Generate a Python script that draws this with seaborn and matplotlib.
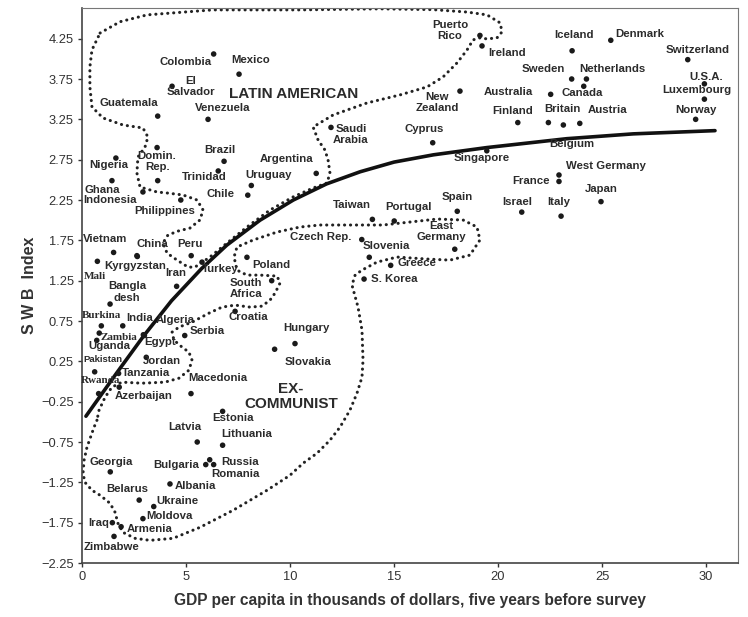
import seaborn as sns
import matplotlib.pyplot as plt
import numpy as np
import pandas as pd

# Countries, GDP per capita (thousands $) and subjective well-being index
countries = ["Colombia", "Mexico", "El\nSalvador", "Guatemala", "Venezuela", "Saudi\nArabia",
             "Domin.\nRep.", "", "Nigeria", "Brazil", "Argentina", "Trinidad", "Uruguay", "Chile",
             "Ghana", "Indonesia", "Philippines", "Puerto\nRico", "Ireland", "Iceland", "Denmark",
             "Switzerland", "Sweden", "Netherlands", "Canada", "U.S.A.", "Luxembourg", "Norway",
             "New\nZealand", "Australia", "Finland", "Britain", "Belgium", "Austria", "Cyprus",
             "Singapore", "West Germany", "France", "Japan", "Israel", "Italy", "Spain", "Taiwan",
             "Portugal", "Czech Rep.", "East\nGermany", "Slovenia", "Greece", "S. Korea", "Vietnam",
             "China", "Kyrgyzstan", "Peru", "Mali", "Turkey", "Poland", "Iran", "South\nAfrica",
             "Bangla\ndesh", "Croatia", "Burkina", "India", "Zambia", "Uganda", "Algeria", "Egypt",
             "Serbia", "Hungary", "Slovakia", "Jordan", "Pakistan", "Tanzania", "Rwanda",
             "Azerbaijan", "Macedonia", "Estonia", "Latvia", "Lithuania", "Russia", "Bulgaria",
             "Romania", "Georgia", "Albania", "Belarus", "Ukraine", "Moldova", "Iraq", "Armenia",
             "Zimbabwe"]
gdp = [6.33, 7.55, 4.33, 3.64, 6.06, 11.97,
       3.61, 3.64, 1.63, 6.83, 11.26, 6.55, 8.14, 7.97,
       1.44, 2.93, 4.75, 19.13, 19.23, 23.56, 25.42,
       29.12, 23.54, 24.25, 24.12, 29.92, 29.92, 29.50,
       18.17, 22.53, 20.95, 22.42, 23.14, 23.93, 16.86,
       19.46, 22.93, 22.93, 24.95, 21.14, 23.03, 18.04, 13.96,
       15.01, 13.45, 17.92, 13.81, 14.84, 13.56, 1.52,
       2.64, 2.66, 5.25, 0.74, 5.77, 7.93, 4.55, 9.12,
       1.35, 7.36, 0.93, 1.96, 0.83, 0.71, 2.95, 3.00,
       4.94, 10.24, 9.26, 3.09, 0.61, 1.76, 0.80,
       1.79, 5.24, 6.76, 5.54, 6.76, 6.14, 5.95,
       6.33, 1.36, 4.23, 2.75, 3.45, 2.93, 1.46, 1.88,
       1.54]
swb = [4.06, 3.81, 3.66, 3.29, 3.25, 3.15,
       2.90, 2.49, 2.77, 2.73, 2.58, 2.61, 2.43, 2.31,
       2.49, 2.35, 2.25, 4.29, 4.16, 4.10, 4.23,
       3.99, 3.75, 3.75, 3.66, 3.69, 3.50, 3.25,
       3.60, 3.56, 3.21, 3.21, 3.18, 3.20, 2.96,
       2.86, 2.56, 2.48, 2.23, 2.10, 2.05, 2.11, 2.01,
       1.99, 1.76, 1.64, 1.54, 1.44, 1.27, 1.60,
       1.56, 1.55, 1.56, 1.49, 1.48, 1.54, 1.18, 1.25,
       0.96, 0.87, 0.69, 0.69, 0.60, 0.51, 0.58, 0.57,
       0.57, 0.47, 0.40, 0.30, 0.12, 0.10, -0.15,
       -0.07, -0.15, -0.37, -0.75, -0.79, -0.97, -1.03,
       -1.03, -1.12, -1.27, -1.47, -1.55, -1.70, -1.75, -1.80,
       -1.92]

# fitted curve
curve_gdp = [0.19, 1.68, 2.95, 4.30, 5.75, 6.96, 8.56, 10.16, 11.76, 13.37, 15.0, 16.89,
             19.46, 23.3, 26.5, 30.43]
curve_swb = [-0.43, 0.11, 0.56, 1.00, 1.40, 1.69, 2.00, 2.25, 2.45, 2.60, 2.72, 2.81,
             2.90, 3.01, 3.07, 3.11]

# dotted outlines of the two groups
latin_gdp = [0.87, 1.83, 3.13, 6.30, 10.48, 14.33, 16.88, 18.51, 19.47, 20.10, 20.19, 19.95, 19.47,
             19.13, 18.80, 18.51, 18.03, 17.36, 16.59, 15.29, 13.70, 12.07, 11.11, 11.35, 11.68,
             11.83, 11.92, 11.78, 11.11, 10.14, 9.04, 7.93, 6.97, 6.15, 5.43, 5.10, 4.57, 4.09,
             3.89, 4.13, 4.62, 5.19, 5.67, 5.82, 5.53, 4.86, 4.09, 3.61, 2.79, 2.64, 2.69, 3.03,
             3.17, 2.93, 1.97, 1.01, 0.48, 0.38, 0.38, 0.48, 0.87]
latin_swb = [4.32, 4.46, 4.545, 4.607, 4.607, 4.62, 4.61, 4.58, 4.545, 4.446, 4.334, 4.26, 4.247,
             4.26, 4.235, 4.11, 3.95, 3.776, 3.652, 3.553, 3.453, 3.304, 3.155, 2.994, 2.87,
             2.746, 2.585, 2.461, 2.399, 2.287, 2.126, 1.915, 1.716, 1.543, 1.418, 1.418, 1.505,
             1.592, 1.716, 1.815, 1.865, 1.902, 2.002, 2.126, 2.25, 2.312, 2.337, 2.349, 2.411,
             2.585, 2.783, 2.907, 3.031, 3.143, 3.18, 3.267, 3.404, 3.652, 3.90, 4.111, 4.32]
excom_gdp = [0.72, 0.58, 0.24, 0.10, 0.05, 0.14, 0.48, 0.87, 1.35, 1.59, 1.73, 1.97, 2.55, 3.27,
             4.38, 5.67, 7.26, 8.89, 10.00, 10.63, 11.30, 11.92, 12.40, 12.88, 13.22, 13.46,
             13.51, 13.46, 13.27, 12.98, 13.13, 13.46, 14.18, 15.14, 16.59, 17.69, 18.65, 19.13,
             18.99, 18.32, 17.07, 15.77, 14.47, 13.37, 11.44, 10.48, 9.38, 8.22, 7.45, 7.31,
             7.45, 7.93, 8.56, 9.38, 9.52, 9.28, 9.04, 8.65, 8.08, 7.36, 6.73, 6.11, 5.29, 4.66,
             4.33, 4.42, 4.81, 5.14, 5.29, 5.14, 4.66, 3.99, 2.88, 1.92, 1.44, 1.11, 0.82, 0.72]
excom_swb = [-0.48, -0.567, -0.815, -0.976, -1.137, -1.249, -1.348, -1.41, -1.51, -1.621, -1.758,
             -1.87, -1.944, -1.969, -1.944, -1.808, -1.597, -1.349, -1.162, -1.013, -0.889,
             -0.728, -0.567, -0.356, -0.145, 0.054, 0.265, 0.637, 0.922, 1.195, 1.319, 1.381,
             1.48, 1.543, 1.518, 1.505, 1.567, 1.754, 1.915, 2.002, 2.014, 1.977, 1.94, 1.94,
             1.94, 1.915, 1.853, 1.753, 1.667, 1.543, 1.381, 1.319, 1.319, 1.307, 1.22, 1.096,
             1.009, 0.934, 0.922, 0.947, 0.922, 0.848, 0.736, 0.674, 0.612, 0.513, 0.426, 0.364,
             0.265, 0.14, 0.041, -0.008, -0.021, -0.008, -0.07, -0.195, -0.356, -0.48]

xticks = [0, 5, 10, 15, 20, 25, 30]
yticks = [-2.25, -1.75, -1.25, -0.75, -0.25, 0.25, 0.75, 1.25, 1.75, 2.25, 2.75, 3.25, 3.75, 4.25]

# label offsets in pixels from the dot (dx right, dy up)
offsets = {
    "Colombia": (-28, -8), "Mexico": (12, 14), "El\nSalvador": (19, 0), "Guatemala": (-29, 13),
    "Venezuela": (15, 11), "Saudi\nArabia": (20, -7), "Domin.\nRep.": (0, -14), "Nigeria": (-7, -7),
    "Brazil": (-4, 11), "Argentina": (-30, 14), "Trinidad": (-14, -6), "Uruguay": (17, 10),
    "Chile": (-27, 1), "Ghana": (-10, -9), "Indonesia": (-33, -8), "Philippines": (-16, -11),
    "Puerto\nRico": (-30, 5), "Ireland": (25, -7), "Iceland": (2, 16), "Denmark": (29, 6),
    "Switzerland": (10, 10), "Sweden": (-28, 10), "Netherlands": (26, 10), "Canada": (-2, -7),
    "U.S.A.": (2, 7), "Luxembourg": (-8, 9), "Norway": (0, 9), "New\nZealand": (-23, -11),
    "Australia": (-42, 2), "Finland": (-5, 12), "Britain": (14, 14), "Belgium": (8, -19),
    "Austria": (28, 13), "Cyprus": (-9, 14), "Singapore": (-5, -7), "West Germany": (47, 9),
    "France": (-28, 0), "Japan": (0, 13), "Israel": (-4, 10), "Italy": (-2, 14), "Spain": (0, 14),
    "Taiwan": (-21, 14), "Portugal": (14, 14), "Czech Rep.": (-41, 3), "East\nGermany": (-13, 18),
    "Slovenia": (17, 11), "Greece": (26, 2), "S. Korea": (30, 0), "Vietnam": (-8, 13),
    "China": (15, 12), "Kyrgyzstan": (-2, -10), "Peru": (-1, 12), "Mali": (-2, -15),
    "Turkey": (18, -7), "Poland": (24, -8), "Iran": (-1, 13), "South\nAfrica": (-26, -8),
    "Bangla\ndesh": (17, 12), "Croatia": (13, -6), "Burkina": (0, 10), "India": (17, 8),
    "Zambia": (20, -4), "Uganda": (13, -6), "Algeria": (32, 15), "Egypt": (16, -6),
    "Serbia": (22, 5), "Hungary": (11, 16), "Slovakia": (33, -13), "Jordan": (16, -4),
    "Pakistan": (8, 12), "Tanzania": (27, 0), "Rwanda": (2, 13), "Azerbaijan": (24, -9),
    "Macedonia": (27, 16), "Estonia": (10, -7), "Latvia": (-12, 15), "Lithuania": (24, 11),
    "Russia": (30, -2), "Bulgaria": (-30, 0), "Romania": (22, -9), "Georgia": (1, 10),
    "Albania": (25, -2), "Belarus": (-12, 11), "Ukraine": (24, 6), "Moldova": (27, 3),
    "Iraq": (-14, 0), "Armenia": (29, -2), "Zimbabwe": (-3, -11),
}
serif_labels = ["Mali", "Burkina", "Zambia", "Rwanda"]

df = pd.DataFrame({"country": countries, "gdp": gdp, "swb": swb})

sns.set_theme(style="white")
plt.rcParams['font.family'] = ["Liberation Sans", "DejaVu Sans"]

fig = plt.figure(figsize=(7.48, 6.17), dpi=100)
ax = fig.add_axes([0.1096, 0.0875, 0.8766, 0.8995])

# dotted group outlines
for gx, gy in [(latin_gdp, latin_swb), (excom_gdp, excom_swb)]:
    ax.plot(gx, gy, color="#222222", lw=2.2, linestyle=(0, (0.05, 1.9)),
            dash_capstyle="round", zorder=1)
sns.lineplot(x=curve_gdp, y=curve_swb, sort=False, estimator=None, color="#111111",
             lw=2.6, ax=ax, zorder=2)
sns.scatterplot(data=df, x="gdp", y="swb", color="#1a1a1a", s=16, edgecolor="none",
                ax=ax, zorder=3)

for _, row in df.iterrows():
    if row.country == "":
        continue
    dx, dy = offsets[row.country]
    if row.country in serif_labels:
        fam, size = ["Liberation Serif"], 8
    elif row.country == "Pakistan":
        fam, size = ["Liberation Sans"], 6.8
    else:
        fam, size = ["Liberation Sans"], 8.2
    ax.annotate(row.country, (row.gdp, row.swb), xytext=(dx, dy), textcoords="offset pixels",
                ha="center", va="center", fontsize=size, fontweight="bold", family=fam,
                color="#2b2b2b", linespacing=1.15, zorder=4)

ax.text(10.18, 3.56, "LATIN AMERICAN", ha="center", va="center", fontsize=11,
        fontweight="bold", color="#2b2b2b")
ax.text(10.05, -0.19, "EX-\nCOMMUNIST", ha="center", va="center", fontsize=11,
        fontweight="bold", color="#2b2b2b", linespacing=1.1)

ax.set_xlim(0, 31.52)
ax.set_ylim(-2.25, 4.63)
ax.set_xticks(xticks)
ax.set_yticks(yticks)
ax.set_yticklabels([f"{v:.2f}".replace("-", "\u2212") for v in yticks])
ax.tick_params(axis="both", direction="out", length=3, width=1, colors="#333333",
               labelsize=9.3, labelcolor="#333333", pad=3)
ax.tick_params(bottom=True, left=True)

for side in ["top", "right"]:
    ax.spines[side].set_color("#777777")
    ax.spines[side].set_linewidth(0.8)
for side in ["left", "bottom"]:
    ax.spines[side].set_color("#444444")
    ax.spines[side].set_linewidth(1.2)

ax.set_xlabel("GDP per capita in thousands of dollars, five years before survey",
              fontsize=11.2, fontweight="bold", color="#333333", labelpad=7)
ax.set_ylabel("S W B  Index", fontsize=11.5, fontweight="bold", color="#333333", labelpad=3)

fig.savefig("out.png", dpi=100)
